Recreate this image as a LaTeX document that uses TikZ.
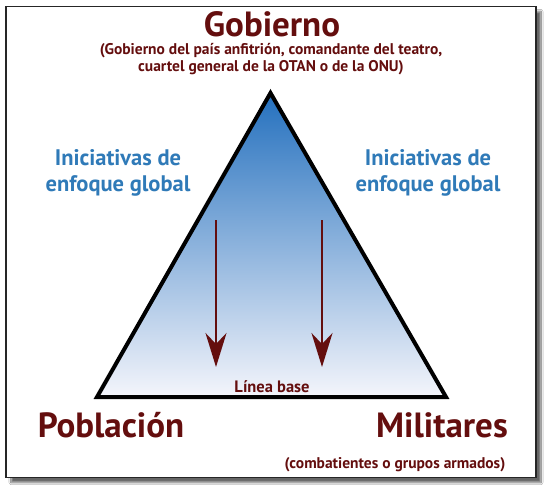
\documentclass[tikz,border=0pt]{standalone}
\usepackage{fontspec}
\setmainfont{PT Sans}
\usetikzlibrary{arrows.meta,shadows.blur}
\definecolor{maroon}{RGB}{100,14,14}
\definecolor{iniblue}{RGB}{47,122,184}
\definecolor{topblue}{RGB}{36,112,190}
\definecolor{botblue}{RGB}{244,245,251}
\tikzset{
  title/.style={font=\bfseries\fontsize{35}{38}\selectfont, text=maroon, inner sep=0pt},
  subt/.style={font=\bfseries\fontsize{15.5}{16.5}\selectfont, text=maroon, align=center, inner sep=0pt},
  ini/.style={font=\bfseries\fontsize{22.5}{25.5}\selectfont, text=iniblue, align=center, inner sep=0pt},
  downarrow/.style={draw=maroon, line width=2.2pt, -{Stealth[length=34pt,width=21pt,inset=11pt]}},
  tri/.style={draw=black, line width=4pt, line join=miter},
}
\begin{document}
\begin{tikzpicture}[x=1pt,y=-1pt]
\useasboundingbox (0,0) rectangle (556,487);
\fill[white] (0,0) rectangle (556,487);
% framed panel with shadow
\node[draw=black!85, line width=1.1pt, fill=white, minimum width=530pt, minimum height=471pt, inner sep=0pt,
  blur shadow={shadow xshift=5pt, shadow yshift=-5pt, shadow blur steps=12, shadow blur extra rounding=0pt, shadow opacity=60}]
  (frame) at (271,242) {};
% triangle
\coordinate (apex) at (270.5,93);
\coordinate (bl) at (97,397);
\coordinate (br) at (446,397);
\shade[top color=topblue, bottom color=botblue] (apex) -- (br) -- (bl) -- cycle;
\draw[tri] (apex) -- (br) -- (bl) -- cycle;
% texts
\node[title] (gob) at (272,24) {Gobierno};
\node[subt] (gobsub) at (271,59) {(Gobierno del país anfitrión, comandante del teatro,\\cuartel general de la OTAN o de la ONU)};
\node[ini] (inil) at (118,173) {Iniciativas de\\enfoque global};
\node[ini] (inir) at (428,173) {Iniciativas de\\enfoque global};
\node[title] (pob) at (111,425) {Población};
\node[title] (mil) at (442,425) {Militares};
\node[subt] (milsub) at (395,465) {(combatientes o grupos armados)};
\node[subt, font=\bfseries\fontsize{16.5}{18}\selectfont] (base) at (272,387) {Línea base};
% arrows
\coordinate (a1s) at (216,220);
\coordinate (a1e) at (216,367);
\coordinate (a2s) at (322,220);
\coordinate (a2e) at (322,367);
\draw[downarrow] (a1s) -- (a1e);
\draw[downarrow] (a2s) -- (a2e);
\end{tikzpicture}
\end{document}
